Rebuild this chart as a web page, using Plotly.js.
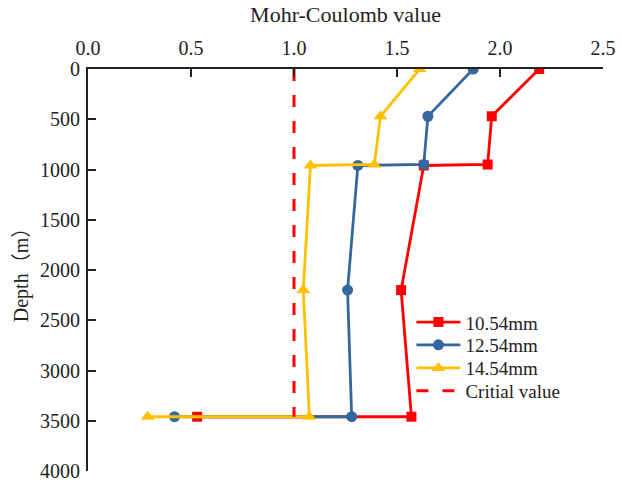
<!DOCTYPE html>
<html>
<head>
<meta charset="utf-8">
<script src="https://cdn.plot.ly/plotly-3.0.1.min.js"></script>
<style>
  html, body { margin: 0; padding: 0; background: #fff; }
  #chart { width: 622px; height: 484px; }
</style>
</head>
<body>
<div id="chart"></div>
<script>
// Depth of each sampling point (m)
const depth = [0, 470, 950, 960, 2200, 3460, 3460];

// Mohr-Coulomb value per casing thickness
const series1054 = [2.19, 1.96, 1.94, 1.63, 1.52, 1.57, 0.53];
const series1254 = [1.87, 1.65, 1.63, 1.31, 1.26, 1.28, 0.42];
const series1454 = [1.61, 1.42, 1.39, 1.08, 1.045, 1.075, 0.29];

// Critical value reference line
const criticalX = [1.0, 1.0];
const criticalDepth = [0, 3460];

const seriesNames = ['10.54mm', '12.54mm', '14.54mm', 'Critial value'];

const FONT = '"Liberation Serif", "Noto Sans CJK SC", serif';
const TEXT = '#222';

const traces = [
  {
    x: series1054, y: depth, name: seriesNames[0], mode: 'lines+markers', legend: 'legend',
    line: { color: '#ff0000', width: 2.8 },
    marker: { symbol: 'square', size: 10, color: '#ff0000' }
  },
  {
    x: series1254, y: depth, name: seriesNames[1], mode: 'lines+markers', legend: 'legend2',
    line: { color: '#34679d', width: 2.8 },
    marker: { symbol: 'circle', size: 11, color: '#34679d' }
  },
  {
    x: series1454, y: depth, name: seriesNames[2], mode: 'lines+markers', legend: 'legend3',
    line: { color: '#ffc000', width: 2.8 },
    marker: { symbol: 'triangle-up', size: 12, color: '#ffc000' }
  },
  {
    x: criticalX, y: criticalDepth, name: seriesNames[3], mode: 'lines', legend: 'legend4',
    line: { color: '#ff0000', width: 3, dash: '12px,14px' }
  }
];

const axisCommon = {
  showgrid: false,
  zeroline: false,
  showline: true,
  linecolor: '#222',
  linewidth: 2,
  ticks: 'inside',
  ticklen: 8,
  tickwidth: 2,
  tickcolor: '#222',
  tickfont: { family: FONT, size: 20, color: TEXT },
  mirror: false
};

// One single-entry legend per series so the rows can sit close together
function legendRow(yPos) {
  return {
    x: 0.628, y: yPos, xanchor: 'left', yanchor: 'middle',
    bgcolor: 'rgba(0,0,0,0)',
    font: { family: FONT, size: 19, color: TEXT },
    itemwidth: 44
  };
}

const layout = {
  width: 622,
  height: 484,
  margin: { l: 88, r: 19, t: 69, b: 13 },
  paper_bgcolor: '#fff',
  plot_bgcolor: '#fff',
  showlegend: true,
  xaxis: Object.assign({}, axisCommon, {
    side: 'top',
    range: [0, 2.5],
    tickvals: [0, 0.5, 1.0, 1.5, 2.0, 2.5],
    tickformat: '.1f',
    ticklabelstandoff: 4,
    title: { text: 'Mohr-Coulomb value', font: { family: FONT, size: 22, color: TEXT }, standoff: 8 }
  }),
  yaxis: Object.assign({}, axisCommon, {
    range: [4000, 0],
    tickvals: [0, 500, 1000, 1500, 2000, 2500, 3000, 3500, 4000],
    ticklabelstandoff: 2,
    title: { text: 'Depth（m）', font: { family: FONT, size: 20, color: TEXT }, standoff: 6 }
  }),
  legend: legendRow(0.370),
  legend2: legendRow(0.3134),
  legend3: legendRow(0.256),
  legend4: legendRow(0.199)
};

Plotly.newPlot('chart', traces, layout, { displayModeBar: false, staticPlot: true });
</script>
</body>
</html>
